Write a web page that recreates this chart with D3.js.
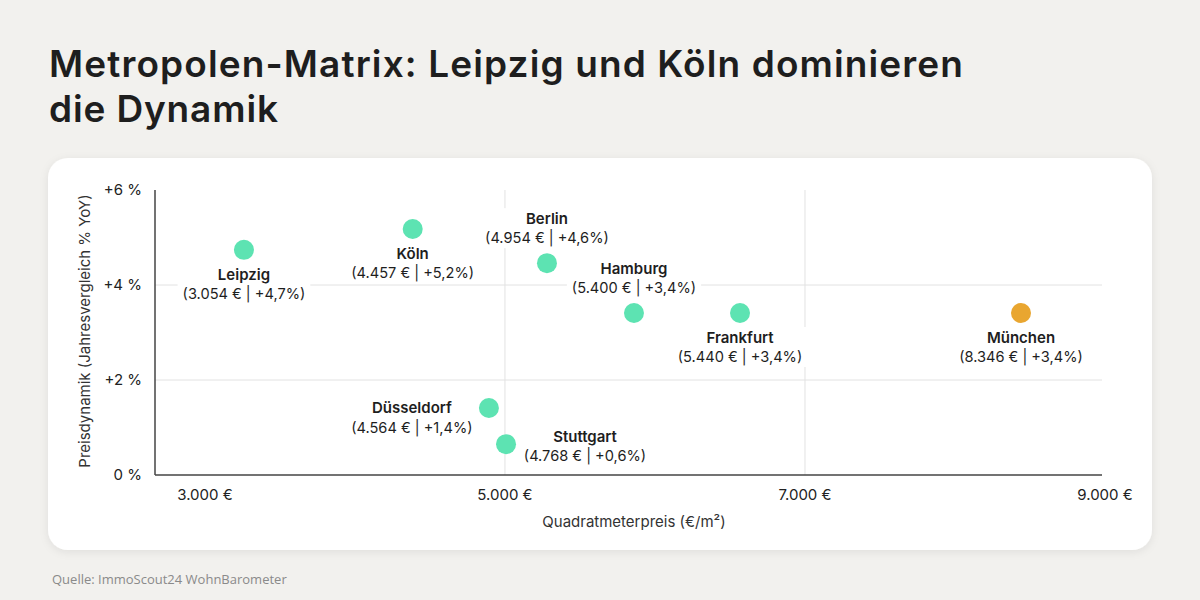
<!DOCTYPE html>
<html>
<head>
<meta charset="utf-8">
<script src="https://cdn.jsdelivr.net/npm/d3@7"></script>
<style>
  html, body { margin: 0; padding: 0; background: #f2f1ee; }
  svg { display: block; }
</style>
</head>
<body>
<svg id="chart" width="1200" height="600"></svg>
<script>
// --- data (positions, labels as printed) ---
var cities = ["Leipzig", "Köln", "Berlin", "Hamburg", "Frankfurt", "München", "Düsseldorf", "Stuttgart"];
var priceValues = [3260, 4385, 5280, 5860, 6567, 8440, 4893, 5007];
var growthValues = [4.74, 5.18, 4.46, 3.41, 3.41, 3.41, 1.41, 0.65];
var priceLabels = ["3.054 €", "4.457 €", "4.954 €", "5.400 €", "5.440 €", "8.346 €", "4.564 €", "4.768 €"];
var growthLabels = ["+4,7%", "+5,2%", "+4,6%", "+3,4%", "+3,4%", "+3,4%", "+1,4%", "+0,6%"];
var highlightCity = "München";

var xTicks = [3000, 5000, 7000, 9000];
var yTicks = [0, 2, 4, 6];
var xGrid = [5000, 7000];
var yGrid = [2, 4];

var title = ["Metropolen-Matrix: Leipzig und Köln dominieren", "die Dynamik"];
var source = "Quelle: ImmoScout24 WohnBarometer";

// label placement relative to the dot
var placement = {
  "Leipzig": "below", "Köln": "below", "Berlin": "above", "Hamburg": "above",
  "Frankfurt": "below", "München": "below", "Düsseldorf": "left", "Stuttgart": "right"
};

var svg = d3.select("#chart");
var font = "Inter, 'Noto Sans', sans-serif";

// title
var titleG = svg.append("g");
title.forEach(function(line, i) {
  var t = titleG.append("text")
    .attr("x", 49)
    .attr("y", 77 + i * 45)
    .attr("font-family", font)
    .attr("font-weight", 600)
    .attr("font-size", 37)
    .attr("fill", "#1e1e1e")
    .text(line);
  var len = t.node().getComputedTextLength();
  var target = i === 0 ? 914 : 229;
  t.attr("textLength", target)
   .attr("lengthAdjust", len > target ? "spacingAndGlyphs" : "spacing");
});

// card
var defs = svg.append("defs");
var f = defs.append("filter").attr("id", "shadow").attr("x", "-5%").attr("y", "-5%").attr("width", "110%").attr("height", "115%");
f.append("feDropShadow").attr("dx", 0).attr("dy", 2).attr("stdDeviation", 4)
  .attr("flood-color", "#000").attr("flood-opacity", 0.08);

svg.append("rect")
  .attr("x", 48).attr("y", 158)
  .attr("width", 1104).attr("height", 392)
  .attr("rx", 20)
  .attr("fill", "#ffffff")
  .attr("filter", "url(#shadow)");

// scales
var x = d3.scaleLinear().domain([2667, 9000]).range([155, 1105]);
var y = d3.scaleLinear().domain([0, 6]).range([475, 190]);

var plot = svg.append("g");

// grid
plot.selectAll(".hgrid")
  .data(yGrid)
  .enter()
  .append("line")
    .attr("x1", x(2667)).attr("x2", 1102)
    .attr("y1", d => y(d)).attr("y2", d => y(d))
    .attr("stroke", "#e2e2e2").attr("stroke-width", 1);

plot.selectAll(".vgrid")
  .data(xGrid)
  .enter()
  .append("line")
    .attr("x1", d => x(d)).attr("x2", d => x(d))
    .attr("y1", y(6)).attr("y2", y(0))
    .attr("stroke", "#e2e2e2").attr("stroke-width", 1);

// axes lines
plot.append("line")
  .attr("x1", x(2667)).attr("x2", x(2667))
  .attr("y1", y(6)).attr("y2", y(0))
  .attr("stroke", "#444").attr("stroke-width", 1.5);
plot.append("line")
  .attr("x1", x(2667)).attr("x2", 1102)
  .attr("y1", y(0)).attr("y2", y(0))
  .attr("stroke", "#444").attr("stroke-width", 1.5);

var de = d3.formatLocale({ decimal: ",", thousands: ".", grouping: [3], currency: ["", " €"] });
var fmtX = de.format(",.0f");

// tick labels
plot.selectAll(".xtick")
  .data(xTicks)
  .enter()
  .append("text")
    .attr("x", d => x(d))
    .attr("y", 500)
    .attr("text-anchor", "middle")
    .attr("font-family", font)
    .attr("font-size", 15)
    .attr("fill", "#222")
    .text(d => fmtX(d) + " €");

plot.selectAll(".ytick")
  .data(yTicks)
  .enter()
  .append("text")
    .attr("x", 142)
    .attr("y", d => y(d) + 5)
    .attr("text-anchor", "end")
    .attr("font-family", font)
    .attr("font-size", 15)
    .attr("fill", "#222")
    .text(d => (d > 0 ? "+" : "") + d + " %");

// axis titles
svg.append("text")
  .attr("x", 634).attr("y", 527)
  .attr("text-anchor", "middle")
  .attr("font-family", font)
  .attr("font-size", 15)
  .attr("fill", "#333")
  .text("Quadratmeterpreis (€/m²)");

svg.append("text")
  .attr("transform", "translate(90, 331) rotate(-90)")
  .attr("text-anchor", "middle")
  .attr("font-family", font)
  .attr("font-size", 15)
  .attr("fill", "#333")
  .text("Preisdynamik (Jahresvergleich % YoY)");

// points
var points = cities.map(function(c, i) {
  return { city: c, price: priceValues[i], growth: growthValues[i],
           label: "(" + priceLabels[i] + " | " + growthLabels[i] + ")" };
});

var offsets = {
  below: { dx: 0, nameDy: 30, valDy: 49 },
  above: { dx: 0, nameDy: -39, valDy: -20 },
  left:  { dx: -77, nameDy: 5, valDy: 25 },
  right: { dx: 79, nameDy: -2, valDy: 17 }
};

var labels = svg.append("g");
points.forEach(function(d) {
  var o = offsets[placement[d.city]];
  var cx = x(d.price) + o.dx, cy = y(d.growth);
  var g = labels.append("g");
  var bg = g.append("rect").attr("fill", "#fff");
  g.append("text")
    .attr("x", cx).attr("y", cy + o.nameDy)
    .attr("text-anchor", "middle")
    .attr("font-family", font)
    .attr("font-weight", 600)
    .attr("font-size", 15)
    .attr("fill", "#1e1e1e")
    .text(d.city);
  g.append("text")
    .attr("x", cx).attr("y", cy + o.valDy)
    .attr("text-anchor", "middle")
    .attr("font-family", font)
    .attr("font-size", 14.6)
    .attr("fill", "#1e1e1e")
    .text(d.label);
  var b = g.node().getBBox();
  bg.attr("x", b.x - 5).attr("y", b.y - 1).attr("width", b.width + 10).attr("height", b.height + 2);
});

svg.append("g").selectAll("circle")
  .data(points)
  .enter()
  .append("circle")
    .attr("cx", d => x(d.price))
    .attr("cy", d => y(d.growth))
    .attr("r", 10)
    .attr("fill", d => d.city === highlightCity ? "#e9a630" : "#5de3b2");

// source
svg.append("text")
  .attr("x", 52).attr("y", 584)
  .attr("font-family", "'Open Sans', sans-serif")
  .attr("font-size", 13)
  .attr("fill", "#8a8a8a")
  .text(source);
</script>
</body>
</html>
